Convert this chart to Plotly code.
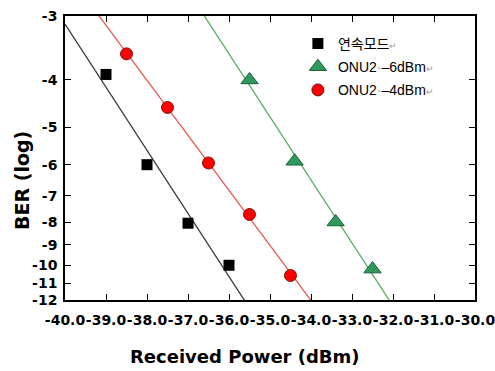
import math
import numpy as np
import plotly.graph_objects as go

# Measured BER curves: received power (dBm) and log10(BER)
cont_power = [-39.0, -38.0, -37.0, -36.0]
cont_logber = [-3.9, -6.0, -8.05, -10.0]

onu6_power = [-35.5, -34.4, -33.4, -32.5]
onu6_logber = [-4.0, -5.9, -8.0, -10.2]

onu4_power = [-38.5, -37.5, -36.5, -35.5, -34.5]
onu4_logber = [-3.55, -4.55, -5.95, -7.7, -10.55]

x_ticks = [-40.0, -39.0, -38.0, -37.0, -36.0, -35.0, -34.0, -33.0, -32.0, -31.0, -30.0]
y_ticks = [-3, -4, -5, -6, -7, -8, -9, -10, -11, -12]

GRAY = "#9a9a9a"
names = [
    "연속모드<span style='color:%s;font-size:9px'>↵</span>" % GRAY,
    "ONU2<span style='color:%s'>·</span>–6dBm<span style='color:%s;font-size:9px'>↵</span>" % (GRAY, GRAY),
    "ONU2<span style='color:%s'>·</span>–4dBm<span style='color:%s;font-size:9px'>↵</span>" % (GRAY, GRAY),
]


def q_db(log_ber):
    """BER scale: Q factor in dB, with BER = 0.5*erfc(Q/sqrt(2))."""
    target = 10.0 ** log_ber
    lo, hi = 0.0, 20.0
    for _ in range(120):
        mid = 0.5 * (lo + hi)
        if 0.5 * math.erfc(mid / math.sqrt(2.0)) > target:
            lo = mid
        else:
            hi = mid
    return 20.0 * math.log10(0.5 * (lo + hi))


def fit_line(px, lb):
    qy = [q_db(v) for v in lb]
    k, b = np.polyfit(px, qy, 1)
    xs = [x_ticks[0], x_ticks[-1]]
    return xs, [k * x + b for x in xs]


fig = go.Figure()

series = [
    (cont_power, cont_logber, "#3a3a3a", dict(symbol="square", size=11, color="#000000",
                                              line=dict(width=0))),
    (onu6_power, onu6_logber, "#5aae5f", dict(symbol="triangle-up", size=15, color="#2e9a5e",
                                              line=dict(width=1, color="#1d5e3b"))),
    (onu4_power, onu4_logber, "#e45a55", dict(symbol="circle", size=12, color="#ff0000",
                                              line=dict(width=1, color="#7a1010"))),
]

# regression lines in the Q-scale
for px, lb, lc, mk in series:
    lx, ly = fit_line(px, lb)
    fig.add_trace(go.Scatter(x=lx, y=ly, mode="lines", line=dict(color=lc, width=1.3),
                             showlegend=False, hoverinfo="skip"))

for i, (px, lb, lc, mk) in enumerate(series):
    fig.add_trace(go.Scatter(x=px, y=[q_db(v) for v in lb], mode="markers", marker=mk,
                             name=names[i], legendgroup="g%d" % i))

tick_font = dict(family="DejaVu Sans", size=14, color="#000000", weight="bold")

fig.update_layout(
    width=495, height=371,
    margin=dict(l=65, r=20, t=16, b=71),
    paper_bgcolor="white", plot_bgcolor="white",
    showlegend=True,
    legend=dict(x=0.568, y=0.958, xanchor="left", yanchor="top",
                bgcolor="rgba(0,0,0,0)", tracegroupgap=2,
                font=dict(family="Liberation Sans, Noto Sans CJK KR", size=14, color="#000000")),
    xaxis=dict(range=[x_ticks[0], x_ticks[-1]], tickvals=x_ticks,
               ticktext=["%.1f" % v for v in x_ticks], tickangle=0,
               ticklabeloverflow="allow", automargin=False,
               ticks="inside", ticklen=6, tickwidth=1.2, tickcolor="#000",
               showline=True, linecolor="#000", linewidth=1.6, mirror="ticks",
               showgrid=False, zeroline=False, tickfont=tick_font, ticklabelstandoff=6),
    yaxis=dict(range=[q_db(y_ticks[-1]), q_db(y_ticks[0])],
               tickvals=[q_db(v) for v in y_ticks], ticktext=[str(v) for v in y_ticks],
               automargin=False,
               ticks="inside", ticklen=6, tickwidth=1.2, tickcolor="#000",
               showline=True, linecolor="#000", linewidth=1.6, mirror="ticks",
               showgrid=False, zeroline=False, tickfont=tick_font, ticklabelstandoff=3),
    annotations=[
        dict(text="Received Power (dBm)", xref="paper", yref="paper",
             x=(245 - 65) / 410, y=-(356 - 300) / 284, xanchor="center", yanchor="middle",
             showarrow=False, font=dict(family="DejaVu Sans", size=18, color="#000", weight="bold")),
        dict(text="BER (log)", xref="paper", yref="paper",
             x=-(65 - 22) / 410, y=1 - (181 - 16) / 284, xanchor="center", yanchor="middle",
             textangle=-90, showarrow=False,
             font=dict(family="DejaVu Sans", size=19, color="#000", weight="bold")),
    ],
)

fig.write_html("out.html")
